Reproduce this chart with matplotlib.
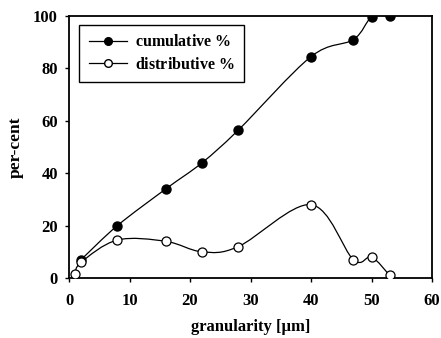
import numpy as np
import matplotlib.pyplot as plt
from matplotlib.path import Path
from matplotlib.patches import PathPatch

plt.rcParams['font.family'] = ['Liberation Serif', 'DejaVu Serif']
plt.rcParams['font.weight'] = 'bold'
plt.rcParams['mathtext.fontset'] = 'custom'
plt.rcParams['mathtext.rm'] = 'Liberation Serif'

# data
granularity_cum = [2, 8, 16, 22, 28, 40, 47, 50, 53]
cumulative = [7, 20, 34, 44, 56.5, 84.5, 91, 99.5, 100]
granularity_dist = [1, 2, 8, 16, 22, 28, 40, 47, 50, 53]
distributive = [1.5, 6, 14.5, 14, 10, 12, 28, 7, 8, 1]


def smooth_path(x, y):
    # Excel-style smoothed line: cubic Bezier segments (Catmull-Rom tangents)
    p = np.column_stack([x, y]).astype(float)
    n = len(p)
    verts = [p[0]]
    codes = [Path.MOVETO]
    for i in range(n - 1):
        p0 = p[i - 1] if i > 0 else p[i]
        p3 = p[i + 2] if i + 2 < n else p[i + 1]
        c1 = p[i] + (p[i + 1] - p0) / 6
        c2 = p[i + 1] - (p3 - p[i]) / 6
        verts += [c1, c2, p[i + 1]]
        codes += [Path.CURVE4] * 3
    return Path(verts, codes)


fig = plt.figure(figsize=(4.41, 3.38), dpi=100)
ax = fig.add_axes([69 / 441, 60 / 338, 363 / 441, 262 / 338])

for x, y in [(granularity_cum, cumulative), (granularity_dist, distributive)]:
    ax.add_patch(PathPatch(smooth_path(x, y), fill=False, edgecolor='black', lw=0.9, zorder=2))

ax.plot(granularity_cum, cumulative, linestyle='none', marker='o', ms=6.5,
        mfc='black', mec='black', zorder=3)
ax.plot(granularity_dist, distributive, linestyle='none', marker='o', ms=6.5,
        mfc='white', mec='black', mew=0.9, zorder=3)

# legend handles
ax.plot([], [], color='black', lw=0.9, marker='o', ms=5.5, mfc='black',
        label=r'cumulative $\mathrm{\%}$')
ax.plot([], [], color='black', lw=0.9, marker='o', ms=5.5, mfc='white',
        label=r'distributive $\mathrm{\%}$')
leg = ax.legend(loc='upper left', bbox_to_anchor=(0.028, 0.966), fontsize=11.5,
                fancybox=False, edgecolor='black', framealpha=1, handlelength=2.4,
                handletextpad=0.5, borderpad=0.6, labelspacing=0.4, borderaxespad=0)
leg.get_frame().set_linewidth(1.0)

ax.set_xlim(0, 60)
ax.set_ylim(0, 100)
ax.set_xticks(range(0, 61, 10))
ax.set_yticks(range(0, 101, 20))
ax.tick_params(direction='out', length=3, width=1, labelsize=12, pad=8)
ax.tick_params(axis='y', pad=5)
for s in ax.spines.values():
    s.set_linewidth(1.3)
ax.set_xlabel('granularity [\u00b5m]', fontsize=12, fontweight='bold', labelpad=7)
ax.set_ylabel('per-cent', fontsize=12.5, fontweight='bold', labelpad=7)

fig.savefig('out.png', dpi=100)
